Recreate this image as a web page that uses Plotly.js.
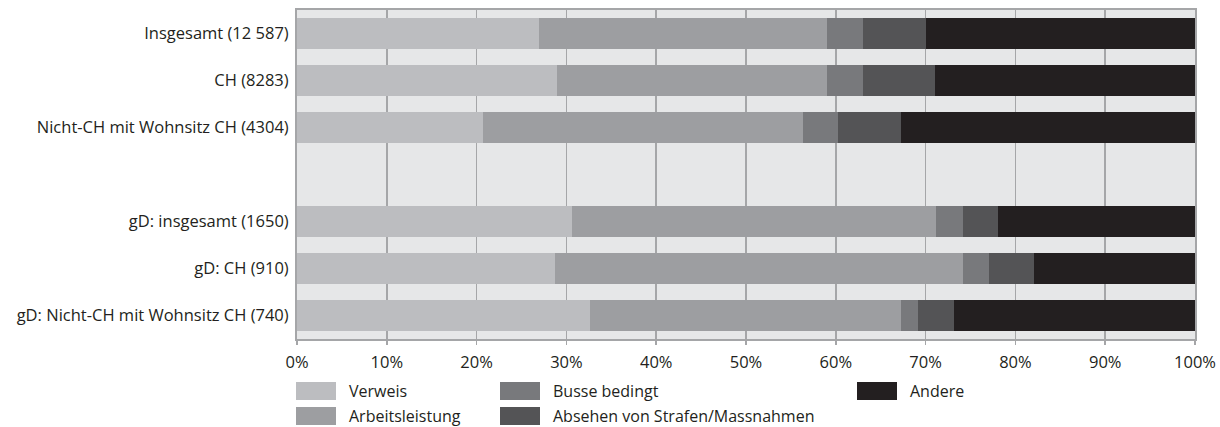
<!DOCTYPE html>
<html>
<head>
<meta charset="utf-8">
<script src="https://cdn.plot.ly/plotly-3.0.1.min.js"></script>
<style>
  html, body { margin: 0; padding: 0; background: #ffffff; }
  #chart { width: 1220px; height: 427px; }
</style>
</head>
<body>
<div id="chart"></div>
<script>
// Categories (top to bottom); the blank entry is the gap row
const categories = [
  "Insgesamt (12 587)",
  "CH (8283)",
  "Nicht-CH mit Wohnsitz CH (4304)",
  " ",
  "gD: insgesamt (1650)",
  "gD: CH (910)",
  "gD: Nicht-CH mit Wohnsitz CH (740)"
];
const barCategories = [
  "Insgesamt (12 587)",
  "CH (8283)",
  "Nicht-CH mit Wohnsitz CH (4304)",
  "gD: insgesamt (1650)",
  "gD: CH (910)",
  "gD: Nicht-CH mit Wohnsitz CH (740)"
];

// Shares in percent
const verweis         = [27.0, 29.0, 20.7, 30.6, 28.7, 32.6];
const arbeitsleistung = [32.0, 30.0, 35.7, 40.6, 45.5, 34.7];
const busseBedingt    = [ 4.0,  4.0,  3.9,  3.0,  2.9,  1.9];
const absehen         = [ 7.0,  8.0,  7.0,  3.9,  5.0,  4.0];
const andere          = [30.0, 29.0, 32.7, 21.9, 17.9, 26.8];

const seriesNames = ["Verweis", "Arbeitsleistung", "Busse bedingt", "Absehen von Strafen/Massnahmen", "Andere"];
const seriesValues = [verweis, arbeitsleistung, busseBedingt, absehen, andere];
const seriesColors = ["#bcbdc0", "#9d9ea1", "#78797c", "#545456", "#231f20"];

const xTicks = [0, 10, 20, 30, 40, 50, 60, 70, 80, 90, 100];

const traces = seriesNames.map((name, i) => ({
  type: "bar",
  orientation: "h",
  name: name,
  y: barCategories,
  x: seriesValues[i],
  marker: { color: seriesColors[i], line: { width: 0 } },
  showlegend: false,
  hoverinfo: "name+x"
}));

// Plot area geometry (pixels) for the manual legend
const W = 1220, H = 427;
const M = { l: 297, r: 25, t: 10, b: 88 };
const pw = W - M.l - M.r, ph = H - M.t - M.b;
const px = (x) => (x - M.l) / pw;
const py = (y) => (H - M.b - y) / ph;

// Legend layout: column-major, 3 columns
const legendCols = [
  [0, 1],
  [2, 3],
  [4]
];
const colX = [296, 500, 857];
const rowY = [391, 416];
const swW = 40, swH = 18;

const shapes = [];
const annotations = [];
legendCols.forEach((col, c) => {
  col.forEach((si, r) => {
    const x0 = colX[c], yc = rowY[r];
    shapes.push({
      type: "rect", xref: "paper", yref: "paper",
      x0: px(x0), x1: px(x0 + swW),
      y0: py(yc + swH / 2), y1: py(yc - swH / 2),
      fillcolor: seriesColors[si], line: { width: 0 }
    });
    annotations.push({
      xref: "paper", yref: "paper",
      x: px(x0 + swW + 11), y: py(yc),
      xanchor: "left", yanchor: "middle",
      text: seriesNames[si], showarrow: false,
      font: { family: "Open Sans, sans-serif", size: 16, color: "#231f20" }
    });
  });
});

const layout = {
  width: W, height: H,
  margin: M,
  barmode: "stack",
  bargap: 0.36,
  paper_bgcolor: "#ffffff",
  plot_bgcolor: "#e6e7e8",
  showlegend: false,
  font: { family: "Open Sans, sans-serif", size: 16, color: "#231f20" },
  xaxis: {
    range: [0, 100],
    tickvals: xTicks,
    ticktext: xTicks.map(v => v + "%"),
    showgrid: true, gridcolor: "#a5a6a8", gridwidth: 1.5,
    zeroline: false,
    showline: true, linecolor: "#a5a6a8", linewidth: 2, mirror: true,
    ticks: "outside", ticklen: 4, tickcolor: "#a5a6a8", tickwidth: 1.5,
    ticklabelstandoff: 3,
    tickfont: { size: 16.5, color: "#231f20" },
    fixedrange: true
  },
  yaxis: {
    type: "category",
    categoryorder: "array",
    categoryarray: categories,
    range: [categories.length - 0.5, -0.5],
    showgrid: false,
    zeroline: false,
    showline: true, linecolor: "#a5a6a8", linewidth: 2, mirror: true,
    ticks: "",
    ticklabelstandoff: 3,
    tickfont: { size: 16.5, color: "#231f20" },
    fixedrange: true
  },
  shapes: shapes,
  annotations: annotations
};

// make sure the gap category exists on the axis
traces.push({
  type: "bar", orientation: "h", y: [" "], x: [0],
  showlegend: false, hoverinfo: "skip", marker: { color: "rgba(0,0,0,0)" }
});

Plotly.newPlot("chart", traces, layout, { displayModeBar: false, staticPlot: true });
</script>
</body>
</html>
